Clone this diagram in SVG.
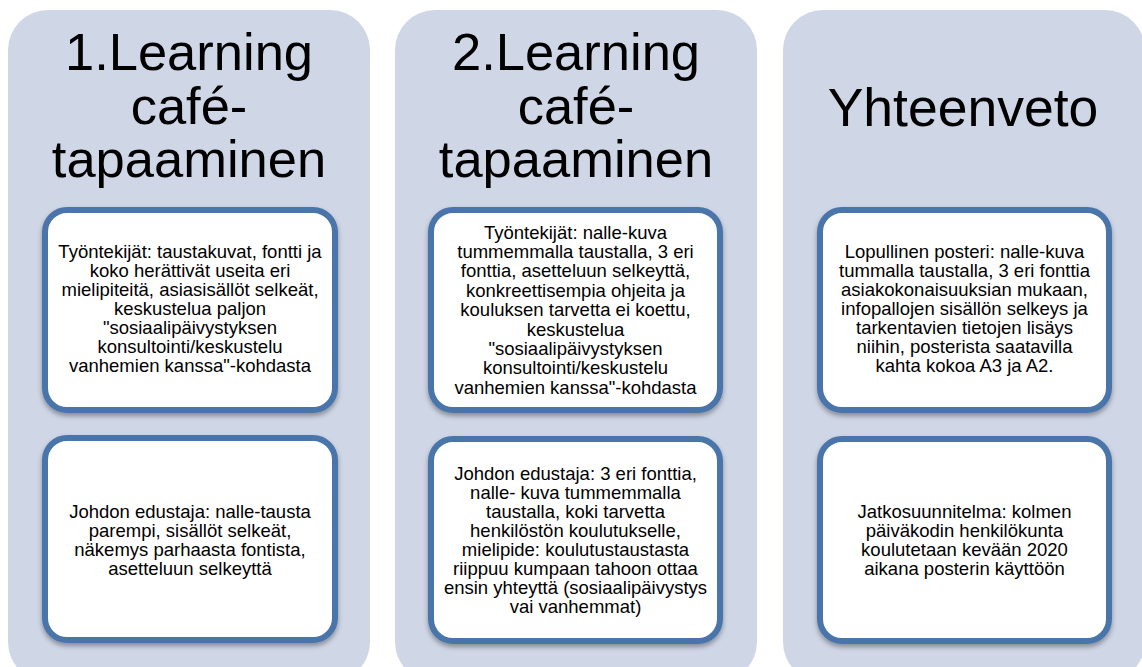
<svg xmlns="http://www.w3.org/2000/svg" width="1142" height="667" viewBox="0 0 1142 667">
<defs>
<filter id="sh" x="-10%" y="-10%" width="120%" height="125%">
<feDropShadow dx="0" dy="3" stdDeviation="2.5" flood-color="#000" flood-opacity="0.35"/>
</filter>
<style>
.col{fill:#cfd6e6;}
.box{fill:#ffffff;stroke:#4a75ab;stroke-width:6;filter:url(#sh);}
.title{font-family:"Liberation Sans",Arial,sans-serif;font-size:52.5px;fill:#000;text-anchor:middle;}
.t{font-family:"Liberation Sans",Arial,sans-serif;font-size:18.5px;fill:#000;text-anchor:middle;}
</style>
</defs>
<rect width="1142" height="667" fill="#ffffff"/>

<g id="col1">
<rect class="col" x="8" y="10" width="362" height="672" rx="40"/>
<text class="title" x="189"><tspan x="189" y="70">1.Learning</tspan><tspan x="189" y="124">café-</tspan><tspan x="189" y="177">tapaaminen</tspan></text>
</g>
<g id="col1-box1">
<rect class="box" x="45" y="210" width="290" height="200" rx="22"/>
<text class="t"><tspan x="190" y="258">Työntekijät: taustakuvat, fontti ja</tspan><tspan x="190" y="277">koko herättivät useita eri</tspan><tspan x="190" y="296">mielipiteitä, asiasisällöt selkeät,</tspan><tspan x="190" y="315">keskustelua paljon</tspan><tspan x="190" y="334">"sosiaalipäivystyksen</tspan><tspan x="190" y="353">konsultointi/keskustelu</tspan><tspan x="190" y="372">vanhemien kanssa"-kohdasta</tspan></text>
</g>
<g id="col1-box2">
<rect class="box" x="45" y="438" width="290" height="202" rx="22"/>
<text class="t"><tspan x="190" y="518">Johdon edustaja: nalle-tausta</tspan><tspan x="190" y="537">parempi, sisällöt selkeät,</tspan><tspan x="190" y="556">näkemys parhaasta fontista,</tspan><tspan x="190" y="575">asetteluun selkeyttä</tspan></text>
</g>

<g id="col2">
<rect class="col" x="395" y="10" width="362" height="672" rx="40"/>
<text class="title"><tspan x="576" y="70">2.Learning</tspan><tspan x="576" y="124">café-</tspan><tspan x="576" y="177">tapaaminen</tspan></text>
</g>
<g id="col2-box1">
<rect class="box" x="431" y="210" width="289" height="200" rx="22"/>
<text class="t"><tspan x="575.5" y="238.5">Työntekijät: nalle-kuva</tspan><tspan x="575.5" y="257.9">tummemmalla taustalla, 3 eri</tspan><tspan x="575.5" y="277.3">fonttia, asetteluun selkeyttä,</tspan><tspan x="575.5" y="296.7">konkreettisempia ohjeita ja</tspan><tspan x="575.5" y="316.1">kouluksen tarvetta ei koettu,</tspan><tspan x="575.5" y="335.5">keskustelua</tspan><tspan x="575.5" y="354.9">"sosiaalipäivystyksen</tspan><tspan x="575.5" y="374.3">konsultointi/keskustelu</tspan><tspan x="575.5" y="393.7">vanhemien kanssa"-kohdasta</tspan></text>
</g>
<g id="col2-box2">
<rect class="box" x="431" y="439" width="289" height="202" rx="22"/>
<text class="t"><tspan x="575.5" y="479.5">Johdon edustaja: 3 eri fonttia,</tspan><tspan x="575.5" y="498.5">nalle- kuva tummemmalla</tspan><tspan x="575.5" y="517.5">taustalla, koki tarvetta</tspan><tspan x="575.5" y="536.5">henkilöstön koulutukselle,</tspan><tspan x="575.5" y="555.5">mielipide: koulutustaustasta</tspan><tspan x="575.5" y="574.5">riippuu kumpaan tahoon ottaa</tspan><tspan x="575.5" y="593.5">ensin yhteyttä (sosiaalipäivystys</tspan><tspan x="575.5" y="612.5">vai vanhemmat)</tspan></text>
</g>

<g id="col3">
<rect class="col" x="783" y="10" width="362" height="672" rx="40"/>
<text class="title" x="963" y="126" style="font-size:53.5px">Yhteenveto</text>
</g>
<g id="col3-box1">
<rect class="box" x="820" y="210" width="289" height="200" rx="22"/>
<text class="t"><tspan x="964.5" y="258">Lopullinen  posteri: nalle-kuva</tspan><tspan x="964.5" y="277">tummalla taustalla, 3 eri fonttia</tspan><tspan x="964.5" y="296">asiakokonaisuuksian mukaan,</tspan><tspan x="964.5" y="315">infopallojen sisällön selkeys ja</tspan><tspan x="964.5" y="334">tarkentavien tietojen lisäys</tspan><tspan x="964.5" y="353">niihin, posterista saatavilla</tspan><tspan x="964.5" y="372">kahta kokoa A3 ja A2.</tspan></text>
</g>
<g id="col3-box2">
<rect class="box" x="820" y="439" width="289" height="202" rx="22"/>
<text class="t"><tspan x="964.5" y="518">Jatkosuunnitelma: kolmen</tspan><tspan x="964.5" y="537">päiväkodin henkilökunta</tspan><tspan x="964.5" y="556">koulutetaan kevään 2020</tspan><tspan x="964.5" y="575">aikana posterin käyttöön</tspan></text>
</g>
</svg>
